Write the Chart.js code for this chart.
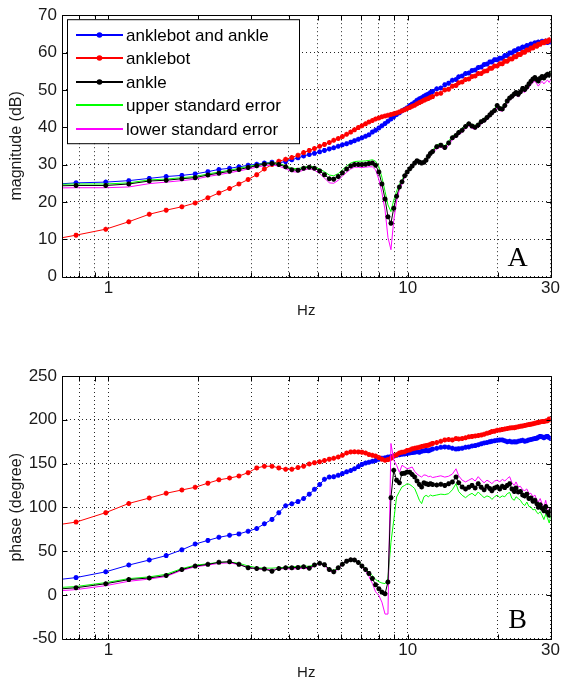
<!DOCTYPE html>
<html>
<head>
<meta charset="utf-8">
<title>Anklebot frequency response</title>
<script src="https://cdn.jsdelivr.net/npm/chart.js@4.4.0/dist/chart.umd.min.js"></script>
<style>
  html, body { margin: 0; padding: 0; background: #fff; }
  #wrap { width: 562px; height: 686px; }
  canvas { display: block; }
</style>
</head>
<body>
<div id="wrap">
  <canvas id="mag" width="562" height="323"></canvas>
  <canvas id="phase" width="562" height="363"></canvas>
</div>
<script>
// frequency bins (Hz)
const freqHz = [
  0.59, 0.78, 0.98, 1.17, 1.37, 1.56, 1.76, 1.95, 2.15, 2.34,
  2.54, 2.73, 2.93, 3.13, 3.32, 3.52, 3.71, 3.91, 4.10, 4.30,
  4.49, 4.69, 4.88, 5.08, 5.27, 5.47, 5.66, 5.86, 6.05, 6.25,
  6.45, 6.64, 6.84, 7.03, 7.23, 7.42, 7.62, 7.81, 8.01, 8.20,
  8.40, 8.59, 8.79, 8.98, 9.18, 9.38, 9.57, 9.77, 9.96, 10.16,
  10.35, 10.55, 10.74, 10.94, 11.13, 11.33, 11.52, 11.72, 11.91, 12.11,
  12.5, 12.9, 13.3, 13.7, 14.1, 14.5, 14.8, 15.2, 15.6, 16.0,
  16.4, 16.8, 17.2, 17.6, 18.0, 18.4, 18.8, 19.1, 19.5, 19.9,
  20.3, 20.7, 21.1, 21.5, 21.9, 22.3, 22.7, 23.0, 23.4, 23.8,
  24.2, 24.6, 25.0, 25.4, 25.8, 26.2, 26.6, 27.0, 27.3, 27.7,
  28.1, 28.5, 28.9, 29.3, 29.7, 30.1
];

const seriesNames = ['anklebot and ankle', 'anklebot', 'ankle', 'upper standard error', 'lower standard error'];
const seriesColors = ['#0000ff', '#ff0000', '#000000', '#00ff00', '#ff00ff'];
const seriesMarkers = [true, true, true, false, false];

// magnitude (dB)
const magBoth = [
  24.5, 25.1, 25.3, 25.7, 26.3, 26.8, 27.1, 27.5, 28.1, 28.7,
  29.0, 29.4, 29.8, 30.1, 30.4, 30.6, 30.5, 30.8, 31.3, 31.8,
  32.3, 32.7, 33.0, 33.4, 33.8, 34.2, 34.5, 34.9, 35.3, 35.6,
  36.0, 36.4, 36.8, 37.2, 37.6, 38.0, 38.7, 39.2, 39.8, 40.4,
  41.0, 41.6, 42.2, 42.8, 43.4, 43.9, 44.4, 44.8, 45.2, 45.8,
  46.2, 46.7, 47.2, 47.6, 47.9, 48.3, 48.6, 48.9, 49.3, 49.6,
  50.3, 50.5, 51.4, 51.8, 52.6, 52.8, 53.5, 53.7, 54.4, 54.5,
  55.2, 55.3, 56.0, 56.1, 56.8, 56.9, 57.5, 57.5, 58.1, 58.1,
  58.5, 58.5, 59.2, 59.2, 59.9, 59.9, 60.5, 60.5, 61.0, 61.0,
  61.5, 61.4, 61.9, 61.8, 62.3, 62.2, 62.6, 62.4, 62.8, 62.6,
  63.0, 62.7, 63.1, 62.7, 63.0, 62.8
];
const magBot = [
  9.3, 11.1, 12.7, 14.7, 16.7, 17.8, 18.7, 19.7, 21.1, 22.4,
  23.6, 24.8, 26.0, 27.3, 28.8, 30.0, 30.9, 31.4, 31.9, 32.5,
  33.2, 33.8, 34.3, 34.9, 35.4, 35.9, 36.5, 37.0, 37.5, 38.1,
  38.7, 39.3, 39.9, 40.4, 40.9, 41.4, 41.8, 42.2, 42.5, 42.8,
  43.0, 43.2, 43.4, 43.6, 43.8, 44.1, 44.4, 44.7, 45.0, 45.3,
  45.6, 45.9, 46.3, 46.6, 46.9, 47.2, 47.5, 47.7, 48.0, 48.2,
  48.9, 49.1, 50.0, 50.2, 51.0, 51.2, 51.9, 52.1, 52.8, 52.9,
  53.6, 53.7, 54.4, 54.4, 55.0, 55.1, 55.8, 55.8, 56.4, 56.4,
  57.0, 57.0, 57.7, 57.7, 58.3, 58.3, 58.9, 58.9, 59.5, 59.5,
  60.1, 60.1, 60.7, 60.7, 61.2, 61.2, 61.8, 61.7, 62.2, 62.2,
  62.7, 62.6, 63.1, 62.9, 63.4, 63.2
];
const magAnkle = [
  24.2, 24.4, 24.4, 24.8, 25.6, 25.8, 26.2, 26.5, 27.2, 27.7,
  28.2, 28.7, 29.2, 29.7, 30.1, 30.3, 30.0, 29.4, 28.6, 28.5,
  29.0, 29.3, 29.0, 28.3, 27.3, 26.2, 26.1, 26.8, 27.8, 28.8,
  29.6, 30.0, 30.0, 30.0, 30.1, 30.3, 30.4, 29.8, 28.0, 24.8,
  20.8, 16.0, 14.3, 18.3, 21.5, 24.0, 25.4, 27.0, 28.0, 28.9,
  29.6, 30.4, 31.0, 30.7, 30.4, 30.6, 31.2, 32.2, 33.0, 33.5,
  34.8, 35.2, 34.6, 35.8, 37.2, 37.8, 38.6, 39.2, 40.2, 40.9,
  40.3, 40.0, 40.6, 41.5, 41.9, 42.6, 43.3, 43.9, 44.5, 45.8,
  45.0, 44.9, 45.8, 47.0, 47.8, 48.3, 48.9, 49.3, 48.8, 49.5,
  50.4, 50.1, 50.8, 51.6, 52.3, 52.9, 53.3, 52.8, 52.4, 53.1,
  53.6, 53.2, 53.8, 54.2, 53.9, 54.5
];
const magUpper = [
  24.6, 24.8, 24.8, 25.1, 25.9, 26.1, 26.5, 26.8, 27.5, 28.0,
  28.5, 29.0, 29.5, 29.9, 30.3, 30.5, 30.3, 29.7, 29.0, 28.9,
  29.3, 29.6, 29.4, 28.8, 28.1, 27.2, 27.0, 27.6, 28.6, 29.6,
  30.4, 30.8, 30.9, 30.9, 31.0, 31.1, 31.3, 30.9, 29.4, 26.6,
  22.8, 19.2, 17.4, 20.5, 22.9, 24.7, 25.9, 27.3, 28.3, 29.2,
  29.9, 30.7, 31.3, 31.0, 30.7, 30.9, 31.5, 32.5, 33.3, 33.8,
  35.3, 35.6, 35.0, 36.3, 37.6, 38.2, 39.1, 39.6, 40.7, 41.3,
  40.7, 40.5, 41.0, 41.9, 42.4, 43.0, 43.7, 44.4, 44.9, 46.3,
  45.4, 45.3, 46.2, 47.5, 48.2, 48.7, 49.4, 49.7, 49.3, 50.0,
  50.8, 50.6, 51.2, 52.0, 52.8, 53.3, 53.7, 53.3, 52.9, 53.6,
  54.0, 53.7, 54.3, 54.6, 54.4, 54.9
];
const magLower = [
  23.7, 23.8, 23.8, 24.0, 24.9, 25.3, 25.7, 26.1, 26.8, 27.3,
  27.8, 28.3, 28.8, 29.3, 29.7, 29.9, 29.6, 28.9, 28.1, 28.0,
  28.5, 28.9, 28.5, 27.6, 26.4, 25.1, 25.0, 25.8, 26.9, 27.9,
  28.8, 29.3, 29.3, 29.2, 29.3, 29.4, 29.4, 28.6, 26.0, 22.5,
  17.8, 10.5, 7.2, 15.0, 20.2, 23.2, 24.8, 26.6, 27.7, 28.6,
  29.3, 30.1, 30.7, 30.4, 30.1, 30.3, 30.9, 31.9, 32.7, 33.2,
  34.2, 34.7, 34.0, 35.2, 36.7, 37.3, 38.0, 38.6, 39.6, 40.4,
  39.7, 39.4, 40.1, 40.9, 41.4, 42.0, 42.8, 43.3, 43.9, 45.2,
  44.4, 44.3, 45.2, 46.4, 47.2, 47.7, 48.3, 48.6, 48.1, 48.8,
  49.6, 49.3, 50.0, 50.7, 51.4, 52.0, 52.3, 51.6, 51.0, 51.7,
  52.3, 51.6, 52.2, 52.6, 52.0, 52.8
];

// phase (degree)
const phaseBoth = [
  15, 19.7, 26.3, 34.0, 39.8, 44.8, 51.4, 58.0, 62.2, 65.7,
  68.0, 69.6, 72.7, 75.8, 81.2, 86.2, 93.9, 101.7, 104.0, 106.5,
  110.0, 115.0, 120.5, 126.0, 132.0, 134.5, 135.0, 136.5, 138.5, 140.5,
  142.0, 144.0, 146.5, 149.0, 150.5, 151.5, 152.5, 153.5, 155.0, 156.0,
  156.5, 157.5, 158.0, 158.5, 159.5, 160.0, 160.5, 161.0, 161.5, 162.0,
  162.5, 163.0, 163.5, 163.0, 164.0, 164.5, 165.0, 164.5, 165.5, 166.5,
  167.5, 168.5, 169.0, 168.5, 167.5, 166.5, 167.0, 167.5, 168.5, 169.0,
  170.0, 170.5, 171.5, 172.5, 173.5, 174.0, 175.0, 175.5, 176.0, 176.5,
  177.0, 177.0, 176.0, 175.0, 175.5, 174.5, 175.0, 174.5, 175.5, 176.0,
  176.5, 175.5, 176.0, 177.0, 177.5, 178.0, 178.5, 179.0, 180.0, 181.0,
  180.5, 179.5, 180.5, 181.0, 179.5, 178.5
];
const phaseBot = [
  77, 83.1, 93.9, 104.4, 110.6, 116.0, 119.8, 122.9, 127.6, 131.4,
  133.4, 135.7, 139.6, 145.0, 146.9, 146.9, 145.0, 143.4, 143.5, 145.5,
  147.0, 149.5, 151.0, 152.0, 153.5, 155.0, 156.0, 157.5, 159.5, 162.0,
  163.3, 163.5, 163.3, 163.0, 162.0, 160.3, 159.5, 158.5, 156.8, 155.0,
  153.7, 154.5, 156.0, 158.5, 160.0, 162.0, 163.0, 163.5, 165.0, 165.5,
  166.8, 167.5, 168.0, 168.5, 169.5, 170.0, 170.5, 171.0, 172.0, 173.0,
  174.0, 175.5, 177.0, 177.5, 177.0, 178.5, 178.0, 178.6, 179.5, 180.5,
  181.0, 181.5, 182.0, 182.5, 183.5, 184.5, 185.5, 186.5, 187.0, 188.0,
  188.2, 189.0, 189.5, 190.0, 190.5, 191.0, 191.0, 191.5, 192.0, 192.5,
  193.0, 193.5, 194.0, 194.5, 195.0, 195.5, 196.0, 196.5, 197.0, 197.5,
  198.0, 198.0, 198.5, 199.0, 201.0, 199.8
];
const phaseAnkle = [
  5, 8.1, 12.7, 17.4, 19.3, 22.0, 29.0, 32.8, 34.8, 37.1,
  37.9, 34.8, 30.9, 30.1, 29.4, 27.0, 30.1, 30.9, 31.0, 31.3,
  32.0, 30.5, 34.0, 36.0, 34.5, 29.0, 26.3, 31.0, 35.0, 38.5,
  40.0, 39.8, 37.0, 33.0, 29.0, 24.5, 18.6, 11.5, 7.0, 3.1,
  1.2, 14.7, 111.0, 142.4, 131.0, 128.0, 138.5, 139.0, 140.4, 140.0,
  137.5, 134.6, 130.0, 126.0, 123.3, 128.0, 127.0, 126.0, 127.0, 126.0,
  125.5, 126.3, 125.0, 127.0, 129.0, 134.6, 128.0, 123.3, 121.0, 123.0,
  125.0, 122.0, 127.0, 123.0, 120.0, 124.0, 121.4, 119.0, 122.0, 123.3,
  121.0, 124.0, 122.5, 125.0, 127.0, 121.0, 118.0, 122.0, 117.5, 118.0,
  114.0, 113.0, 115.0, 110.0, 110.5, 107.0, 108.0, 104.0, 100.0, 103.0,
  99.0, 96.0, 101.0, 94.0, 91.0, 96.6
];
const phaseUpper = [
  7, 9.5, 14.0, 18.5, 20.5, 23.5, 30.0, 33.8, 35.5, 37.0,
  37.5, 36.0, 33.0, 31.0, 30.5, 30.5, 31.0, 31.5, 32.0, 32.5,
  33.0, 32.5, 34.5, 36.0, 34.5, 29.5, 27.5, 31.5, 35.5, 38.5,
  40.0, 40.0, 37.5, 34.0, 30.0, 26.0, 22.0, 17.5, 15.0, 13.5,
  12.8, 18.6, 60.0, 85.0, 111.8, 118.0, 123.3, 125.0, 127.0, 126.0,
  124.0, 121.4, 115.0, 108.0, 104.2, 112.0, 113.7, 112.0, 114.0, 113.0,
  114.0, 115.0, 114.5, 115.6, 120.0, 127.0, 118.0, 113.7, 111.0, 114.0,
  116.0, 113.0, 117.5, 114.0, 111.0, 113.0, 111.8, 109.0, 112.0, 114.0,
  111.0, 113.0, 112.0, 115.6, 117.0, 110.0, 108.0, 112.0, 110.0, 108.0,
  104.0, 102.0, 106.0, 101.0, 100.4, 97.0, 98.0, 94.0, 92.7, 95.0,
  91.0, 86.0, 92.0, 88.0, 82.0, 91.0
];
const phaseLower = [
  3, 6, 10.5, 15.5, 18.0, 21.0, 28.0, 32.0, 34.0, 36.0,
  36.5, 34.5, 31.5, 29.5, 29.0, 29.0, 29.5, 30.0, 29.5, 30.0,
  30.5, 29.5, 33.0, 35.5, 33.5, 27.5, 25.5, 30.0, 35.0, 39.0,
  41.0, 40.5, 37.5, 32.5, 27.0, 21.0, 13.0, 3.5, -0.7, -8.4,
  -22.0, -22.0, 172.9, 153.8, 148.0, 140.0, 148.0, 146.0, 144.0, 145.0,
  146.0, 141.0, 138.0, 136.0, 134.6, 137.0, 136.6, 135.0, 135.5, 134.0,
  135.0, 136.0, 134.5, 135.5, 138.0, 144.0, 136.0, 131.0, 129.0, 131.0,
  133.0, 130.0, 135.0, 131.0, 128.0, 131.0, 129.0, 127.0, 130.0, 131.0,
  129.0, 132.0, 130.0, 132.8, 135.0, 128.0, 125.0, 129.0, 123.3, 124.0,
  120.0, 119.0, 121.0, 115.6, 116.0, 112.0, 114.0, 108.0, 106.0, 110.0,
  104.0, 100.0, 108.0, 98.0, 96.0, 100.4
];

// axes
const xTicks = [0.8, 0.9, 1, 2, 3, 4, 5, 6, 7, 8, 9, 10, 20, 30];
const xTickLabels = [1, 10, 30];

const SANS = '"Liberation Sans", Arial, sans-serif';

function makeSeries(idx, values, order) {
  return {
    label: seriesNames[idx],
    data: freqHz.map((f, i) => ({ x: f, y: values[i] })),
    borderColor: seriesColors[idx],
    backgroundColor: seriesColors[idx],
    borderWidth: 1,
    pointStyle: 'star',
    pointRadius: seriesMarkers[idx] ? 2.5 : 0,
    pointBorderWidth: 1.5,
    pointHoverRadius: 0,
    tension: 0,
    clip: 0,
    order: order
  };
}

// frame, inward ticks, panel letter, in-plot legend
const panelDecor = {
  id: 'panelDecor',
  afterDraw(chart, args, opts) {
    const { ctx, chartArea: a, scales } = chart;
    const L = Math.round(a.left) + 0.5, R = Math.round(a.right) + 0.5;
    const T = Math.round(a.top) + 0.5, B = Math.round(a.bottom) + 0.5;
    ctx.save();
    ctx.strokeStyle = '#000';
    ctx.lineWidth = 1;
    ctx.beginPath();
    ctx.rect(L, T, R - L, B - T);
    scales.x.ticks.forEach(t => {
      const px = Math.round(scales.x.getPixelForValue(t.value)) + 0.5;
      ctx.moveTo(px, B); ctx.lineTo(px, B - 5);
      ctx.moveTo(px, T); ctx.lineTo(px, T + 5);
    });
    scales.y.ticks.forEach(t => {
      const py = Math.round(scales.y.getPixelForValue(t.value)) + 0.5;
      ctx.moveTo(L, py); ctx.lineTo(L + 5, py);
      ctx.moveTo(R, py); ctx.lineTo(R - 5, py);
    });
    ctx.stroke();

    ctx.fillStyle = '#000';
    ctx.font = '28px "Liberation Serif", "Times New Roman", serif';
    ctx.textAlign = 'center';
    ctx.textBaseline = 'middle';
    ctx.fillText(opts.letter, a.right - 33, a.bottom - 18);

    if (opts.legend) {
      const bx = a.left + 5, by = a.top + 4, bw = 232, bh = 124;
      ctx.fillStyle = '#fff';
      ctx.fillRect(bx, by, bw, bh);
      ctx.strokeStyle = '#000';
      ctx.lineWidth = 1;
      ctx.strokeRect(bx + 0.5, by + 0.5, bw, bh);
      ctx.font = '17px ' + SANS;
      ctx.textAlign = 'left';
      seriesNames.forEach((name, i) => {
        const cy = Math.round(by + 15.5 + i * 23.5);
        ctx.strokeStyle = seriesColors[i];
        ctx.lineWidth = 2;
        ctx.beginPath();
        ctx.moveTo(bx + 9, cy);
        ctx.lineTo(bx + 56, cy);
        ctx.stroke();
        if (seriesMarkers[i]) {
          ctx.fillStyle = seriesColors[i];
          ctx.beginPath();
          ctx.arc(bx + 32.5, cy, 2.8, 0, Math.PI * 2);
          ctx.fill();
        }
        ctx.fillStyle = '#000';
        ctx.fillText(name, bx + 59, cy + 1);
      });
    }
    ctx.restore();
  }
};

function panelOptions(yMin, yMax, yStep, yTitle, letter, legend, pad) {
  return {
    responsive: false,
    animation: false,
    events: [],
    layout: { padding: pad },
    plugins: {
      legend: { display: false },
      tooltip: { enabled: false },
      panelDecor: { letter: letter, legend: legend }
    },
    scales: {
      x: {
        type: 'logarithmic',
        min: 0.7,
        max: 30,
        afterBuildTicks: (scale) => { scale.ticks = xTicks.map(v => ({ value: v })); },
        ticks: {
          autoSkip: false,
          maxRotation: 0,
          minRotation: 0,
          padding: 2,
          color: '#1a1a1a',
          font: { family: SANS, size: 17 },
          callback: (v) => xTickLabels.includes(v) ? String(v) : ''
        },
        grid: { color: 'rgba(0,0,0,0.85)', lineWidth: 1, drawTicks: false },
        border: { display: false, dash: [1, 3] },
        title: {
          display: true, text: 'Hz', color: '#1a1a1a',
          font: { family: SANS, size: 15 }, padding: { top: 1, bottom: 2 }
        }
      },
      y: {
        min: yMin,
        max: yMax,
        afterFit: (scale) => { scale.width = 62; },
        ticks: {
          stepSize: yStep,
          padding: 5,
          color: '#1a1a1a',
          font: { family: SANS, size: 17 }
        },
        grid: { color: 'rgba(0,0,0,0.85)', lineWidth: 1, drawTicks: false },
        border: { display: false, dash: [1, 3] },
        title: {
          display: true, text: yTitle, color: '#1a1a1a',
          font: { family: SANS, size: 16 }, padding: { top: 7, bottom: 0 }
        }
      }
    }
  };
}

new Chart(document.getElementById('mag'), {
  type: 'line',
  data: {
    datasets: [
      makeSeries(0, magBoth, 4),
      makeSeries(1, magBot, 3),
      makeSeries(2, magAnkle, 0),
      makeSeries(3, magUpper, 2),
      makeSeries(4, magLower, 1)
    ]
  },
  options: panelOptions(0, 70, 10, 'magnitude (dB)', 'A', true, { top: 14, right: 9, bottom: 1, left: 0 }),
  plugins: [panelDecor]
});

new Chart(document.getElementById('phase'), {
  type: 'line',
  data: {
    datasets: [
      makeSeries(0, phaseBoth, 4),
      makeSeries(1, phaseBot, 3),
      makeSeries(2, phaseAnkle, 0),
      makeSeries(3, phaseUpper, 2),
      makeSeries(4, phaseLower, 1)
    ]
  },
  options: panelOptions(-50, 250, 50, 'phase (degree)', 'B', false, { top: 53, right: 9, bottom: 2, left: 0 }),
  plugins: [panelDecor]
});
</script>
</body>
</html>
